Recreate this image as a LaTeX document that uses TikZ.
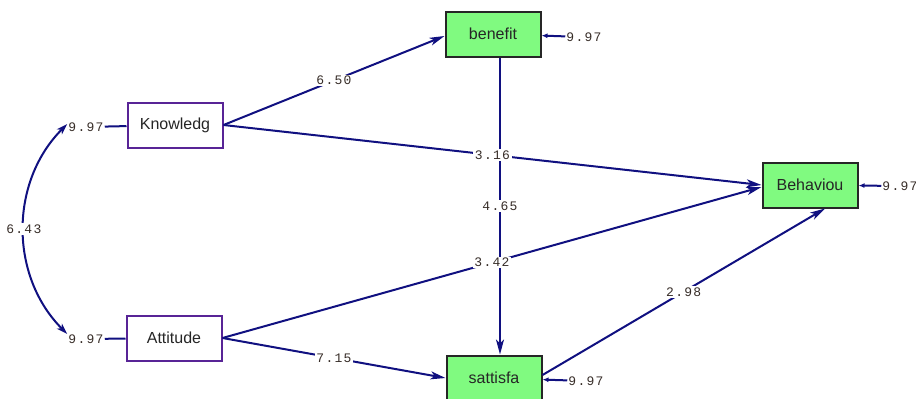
\documentclass[tikz,border=0pt]{standalone}
\usepackage{fontspec}
\setmainfont{Liberation Sans}
\newfontfamily\coeffont[LetterSpace=10]{Liberation Mono}
\usetikzlibrary{arrows.meta,positioning}
\definecolor{amosNavy}{RGB}{16,16,128}
\definecolor{amosPurple}{RGB}{88,36,150}
\definecolor{amosGreen}{RGB}{128,250,128}
\definecolor{amosText}{RGB}{55,45,40}

\begin{document}
\begin{tikzpicture}[x=1pt,y=-1pt,
        obsbox/.style={draw=amosPurple,line width=2pt,fill=white,minimum width=95pt,minimum height=45pt,inner sep=0pt,font=\fontsize{16}{18}\selectfont,text=black!85},
        endobox/.style={obsbox,draw=black!85,fill=amosGreen},
        coef/.style={fill=white,inner sep=1.5pt,font=\coeffont\fontsize{13}{14}\selectfont,text=amosText},
        errlbl/.style={inner sep=1pt,font=\coeffont\fontsize{13}{14}\selectfont,text=amosText},
        effect/.style={-{Stealth[length=15pt,width=8pt,inset=4pt]},line width=2pt,draw=amosNavy},
        errarrow/.style={-{Latex[length=6pt,width=5pt]},line width=2pt,draw=amosNavy},
        covar/.style={{Stealth[length=11pt,width=7pt,inset=3pt]}-{Stealth[length=11pt,width=7pt,inset=3pt]},line width=2pt,draw=amosNavy}
      ]
        \useasboundingbox (0,0) rectangle (916,399);
        % exogenous variables
        \node[obsbox] (know) at (175,125) {Knowledg};
        \node[obsbox] (att) at (174,338) {Attitude};
        % endogenous variables
        \node[endobox] (ben) at (493,34) {benefit};
        \node[endobox] (sat) at (494,378) {sattisfa};
        \node[endobox] (beh) at (810,185) {Behaviou};
        % variances and errors
        \node[errlbl] (knowerr) at (86,127) {9.97};
        \node[errlbl] (atterr) at (86,339) {9.97};
        \node[errlbl] (benerr) at (584,37) {9.97};
        \node[errlbl] (saterr) at (586,381) {9.97};
        \node[errlbl] (beherr) at (900,186) {9.97};
        \draw[line width=2pt,amosNavy] (knowerr) -- (know);
        \draw[line width=2pt,amosNavy] (atterr) -- (att);
        \draw[errarrow] (benerr) -- (ben);
        \draw[errarrow] (saterr) -- (sat);
        \draw[errarrow] (beherr) -- (beh);
        \draw[covar] ([yshift=3pt]knowerr.west) to[bend right=45] node[coef] {6.43} ([yshift=5pt]atterr.west);
        % paths
        \draw[effect] ([xshift=7pt]ben.south) -- node[coef] {4.65} ([xshift=6pt]sat.north);
        \draw[effect] (know.east) -- node[coef] {6.50} ([yshift=-2pt]ben.west);
        \draw[effect] (know.east) -- node[coef] {3.16} (beh.west);
        \draw[effect] (att.east) -- node[coef] {3.42} ([yshift=-2pt]beh.west);
        \draw[effect] (att.east) -- node[coef] {7.15} (sat.west);
        \draw[effect] ([yshift=3pt]sat.east) -- node[coef] {2.98} ([xshift=15pt]beh.south);
      \end{tikzpicture}
\end{document}
